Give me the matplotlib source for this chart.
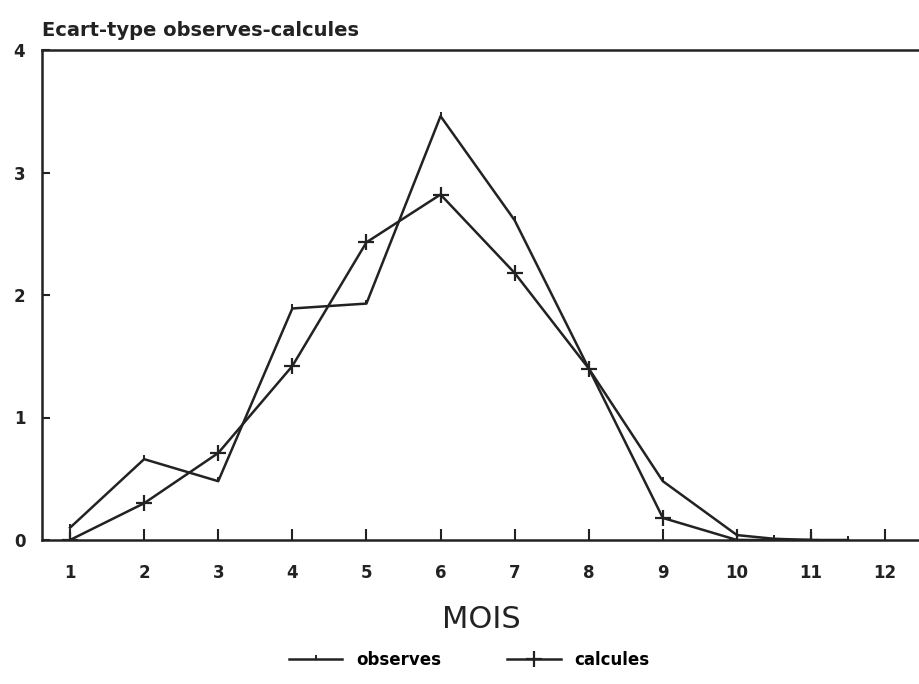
import matplotlib
matplotlib.use('Agg')
import matplotlib.pyplot as plt

# Ecart-type observes / calcules par mois
mois_obs = [1, 2, 3, 4, 5, 6, 7, 8, 9, 10, 10.5, 11, 11.5]
ecart_obs = [0.10, 0.66, 0.48, 1.89, 1.93, 3.46, 2.61, 1.40, 0.48, 0.04, 0.01, 0.0, 0.0]

mois_calc = [1, 2, 3, 4, 5, 6, 7, 8, 9, 10, 11]
ecart_calc = [0.0, 0.30, 0.71, 1.42, 2.43, 2.82, 2.18, 1.40, 0.18, 0.0, 0.0]

xticks = list(range(1, 13))
yticks = [0, 1, 2, 3, 4]

col = '#222222'

fig = plt.figure(figsize=(9.2, 6.84), dpi=100)
ax = fig.add_axes([42 / 920, 144 / 684, 1 - 42 / 920, 490 / 684])

ax.plot(mois_obs, ecart_obs, color=col, lw=1.8, marker=2, ms=3, mew=1.4, label='observes')
ax.plot(mois_calc, ecart_calc, color=col, lw=1.8, marker='+', ms=11, mew=1.6, label='calcules')

ax.set_xlim(0.622, 12.47)
ax.set_ylim(0, 4)
ax.set_xticks(xticks)
ax.set_yticks(yticks)
ax.tick_params(axis='x', direction='in', length=8, width=1.5, pad=17, labelsize=12, colors=col)
ax.tick_params(axis='y', direction='in', length=6, width=1.5, pad=12, labelsize=12, colors=col)
for lab in ax.get_xticklabels() + ax.get_yticklabels():
    lab.set_fontweight('bold')

for s in ['left', 'bottom', 'top']:
    ax.spines[s].set_linewidth(1.8)
    ax.spines[s].set_color(col)
ax.spines['right'].set_visible(False)

ax.set_xlabel('MOIS', fontsize=22, color=col, labelpad=17)
fig.text(42 / 920, 1 - 36 / 684, 'Ecart-type observes-calcules', fontsize=14,
         fontweight='bold', color=col, va='baseline', ha='left')

fig.legend(loc='lower center', bbox_to_anchor=(0.51, 0.0), ncol=2, frameon=False,
           handlelength=3.2, columnspacing=4, prop={'weight': 'bold', 'size': 12})

fig.savefig('out.png', dpi=100)
